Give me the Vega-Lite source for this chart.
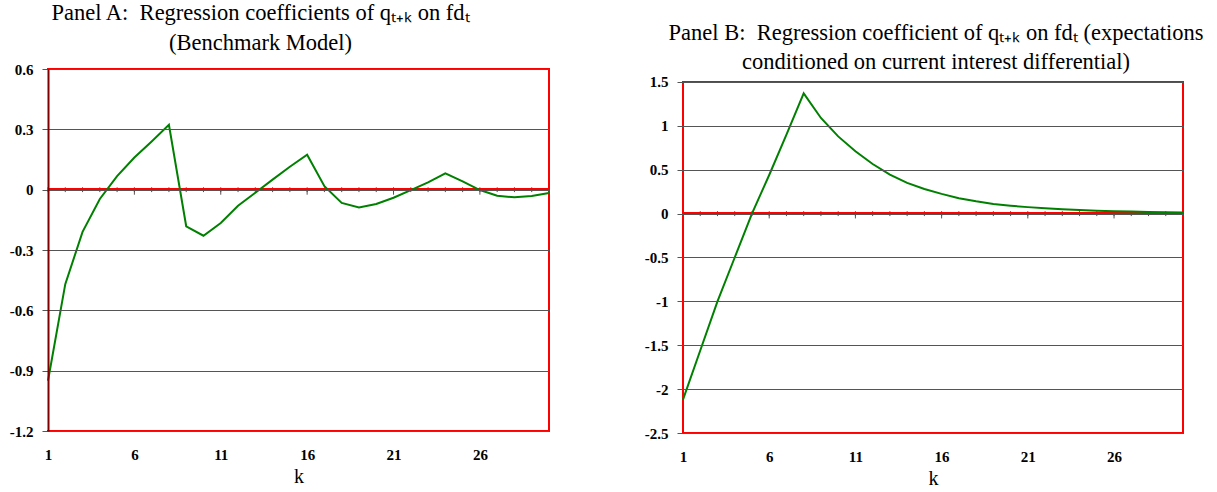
{
  "$schema": "https://vega.github.io/schema/vega-lite/v6.json",
  "padding": {"left": 9, "top": 1, "right": 5, "bottom": 5},
  "background": "white",
  "spacing": 91,
  "config": {
    "view": {"stroke": null},
    "font": "Liberation Serif",
    "axis": {
      "labelFont": "Liberation Serif",
      "labelFontWeight": "bold",
      "labelFontSize": 15,
      "labelColor": "black",
      "labelFlush": false,
      "labelOverlap": false,
      "titleFont": "Liberation Serif",
      "titleFontWeight": "normal",
      "titleColor": "black"
    }
  },
  "datasets": {
    "main": [
      {"k": 1, "a": -0.95, "b": -2.12},
      {"k": 2, "a": -0.47, "b": -1.56},
      {"k": 3, "a": -0.21, "b": -1.0},
      {"k": 4, "a": -0.046, "b": -0.5},
      {"k": 5, "a": 0.067, "b": 0.0},
      {"k": 6, "a": 0.16, "b": 0.44},
      {"k": 7, "a": 0.24, "b": 0.9},
      {"k": 8, "a": 0.323, "b": 1.37},
      {"k": 9, "a": -0.182, "b": 1.09},
      {"k": 10, "a": -0.229, "b": 0.88},
      {"k": 11, "a": -0.166, "b": 0.71},
      {"k": 12, "a": -0.08, "b": 0.565},
      {"k": 13, "a": -0.015, "b": 0.445},
      {"k": 14, "a": 0.05, "b": 0.35},
      {"k": 15, "a": 0.114, "b": 0.28},
      {"k": 16, "a": 0.174, "b": 0.225},
      {"k": 17, "a": 0.017, "b": 0.175},
      {"k": 18, "a": -0.066, "b": 0.14},
      {"k": 19, "a": -0.088, "b": 0.11},
      {"k": 20, "a": -0.071, "b": 0.09},
      {"k": 21, "a": -0.04, "b": 0.074},
      {"k": 22, "a": -0.002, "b": 0.06},
      {"k": 23, "a": 0.036, "b": 0.05},
      {"k": 24, "a": 0.081, "b": 0.04},
      {"k": 25, "a": 0.041, "b": 0.034},
      {"k": 26, "a": -0.002, "b": 0.028},
      {"k": 27, "a": -0.03, "b": 0.023},
      {"k": 28, "a": -0.038, "b": 0.019},
      {"k": 29, "a": -0.032, "b": 0.016},
      {"k": 30, "a": -0.017, "b": 0.013}
    ]
  },
  "hconcat": [
    {
      "width": 501,
      "height": 362,
      "title": {
        "text": ["Panel A:\u2002Regression coefficients of qₜ₊ₖ on fdₜ", "(Benchmark Model)"],
        "font": "Liberation Serif",
        "fontSize": 22.5,
        "fontWeight": "normal",
        "lineHeight": 30,
        "color": "black",
        "anchor": "middle",
        "dx": -38,
        "offset": 8
      },
      "data": {"name": "main"},
      "layer": [
        {"mark": {"type": "rule", "color": "#FF0000", "strokeWidth": 2, "strokeCap": "square"}, "encoding": {"y": {"datum": 0.6}}},
        {"mark": {"type": "rule", "color": "#FF0000", "strokeWidth": 2, "strokeCap": "square"}, "encoding": {"y": {"datum": -1.2}}},
        {"mark": {"type": "rule", "color": "#FF0000", "strokeWidth": 2, "strokeCap": "square"}, "encoding": {"x": {"datum": 30}}},
        {"mark": {"type": "rule", "color": "#FF0000", "strokeWidth": 2}, "encoding": {"y": {"datum": 0}}},
        {"transform": [{"filter": "datum.k > 1 && (datum.k - 1) % 5 == 0"}], "mark": {"type": "rule", "color": "#555555", "strokeWidth": 1}, "encoding": {"x": {"field": "k", "type": "quantitative"}, "y": {"datum": 0}, "y2": {"datum": -0.025}}},
        {"mark": {"type": "rule", "color": "#FF0000", "strokeWidth": 1}, "encoding": {"x": {"field": "k", "type": "quantitative"}, "y": {"datum": -0.012}, "y2": {"datum": 0.012}}},
        {
          "mark": {"type": "line", "color": "#008000", "strokeWidth": 2},
          "encoding": {
            "x": {
              "field": "k", "type": "quantitative",
              "scale": {"domain": [1, 30], "nice": false, "zero": false},
              "axis": {"title": "k", "titleFontSize": 20, "titlePadding": 4, "values": [1, 6, 11, 16, 21, 26], "domain": false, "ticks": false, "tickSize": 0, "grid": false, "labelPadding": 16}
            },
            "y": {
              "field": "a", "type": "quantitative",
              "scale": {"domain": [-1.2, 0.6], "nice": false, "zero": false},
              "axis": {"title": null, "values": [-1.2, -0.9, -0.6, -0.3, 0, 0.3, 0.6], "labelExpr": "'' + datum.value", "grid": true, "gridColor": "#555555", "gridWidth": 1, "tickColor": "#555555", "tickSize": 6, "labelPadding": 9, "domainColor": "#800000", "domainWidth": 2, "zindex": 1}
            }
          }
        }
      ]
    },
    {
      "width": 500,
      "height": 364,
      "title": {
        "text": ["Panel B:\u2002Regression coefficient of qₜ₊ₖ on fdₜ (expectations", "conditioned on current interest differential)"],
        "font": "Liberation Serif",
        "fontSize": 22.5,
        "fontWeight": "normal",
        "lineHeight": 29,
        "color": "black",
        "anchor": "middle",
        "dx": 3,
        "offset": -4
      },
      "data": {"name": "main"},
      "layer": [
        {"mark": {"type": "rule", "color": "#FF0000", "strokeWidth": 2, "strokeCap": "square"}, "encoding": {"y": {"datum": 1.5}}},
        {"mark": {"type": "rule", "color": "#FF0000", "strokeWidth": 2, "strokeCap": "square"}, "encoding": {"y": {"datum": -2.5}}},
        {"mark": {"type": "rule", "color": "#FF0000", "strokeWidth": 2, "strokeCap": "square"}, "encoding": {"x": {"datum": 1}, "y": {"datum": 1.5}, "y2": {"datum": -2.5}}},
        {"mark": {"type": "rule", "color": "#FF0000", "strokeWidth": 2, "strokeCap": "square"}, "encoding": {"x": {"datum": 30}, "y": {"datum": 1.5}, "y2": {"datum": -2.5}}},
        {"mark": {"type": "rule", "color": "#FF0000", "strokeWidth": 2}, "encoding": {"y": {"datum": 0}}},
        {"transform": [{"filter": "datum.k > 1 && (datum.k - 1) % 5 == 0"}], "mark": {"type": "rule", "color": "#555555", "strokeWidth": 1}, "encoding": {"x": {"field": "k", "type": "quantitative"}, "y": {"datum": 0}, "y2": {"datum": -0.055}}},
        {"mark": {"type": "rule", "color": "#FF0000", "strokeWidth": 1}, "encoding": {"x": {"field": "k", "type": "quantitative"}, "y": {"datum": -0.028}, "y2": {"datum": 0.028}}},
        {
          "mark": {"type": "line", "color": "#008000", "strokeWidth": 2},
          "encoding": {
            "x": {
              "field": "k", "type": "quantitative",
              "scale": {"domain": [1, 30], "nice": false, "zero": false},
              "axis": {"title": "k", "titleFontSize": 20, "titlePadding": 4, "values": [1, 6, 11, 16, 21, 26], "domain": false, "ticks": false, "tickSize": 0, "grid": false, "labelPadding": 16}
            },
            "y": {
              "field": "b", "type": "quantitative",
              "scale": {"domain": [-2.5, 1.648], "nice": false, "zero": false},
              "axis": {"title": null, "values": [-2.5, -2, -1.5, -1, -0.5, 0, 0.5, 1, 1.5], "labelExpr": "'' + datum.value", "grid": true, "gridColor": "#555555", "gridWidth": 1, "tickColor": "#555555", "tickSize": 6, "labelPadding": 9, "domain": false, "zindex": 1}
            }
          }
        }
      ]
    }
  ]
}
